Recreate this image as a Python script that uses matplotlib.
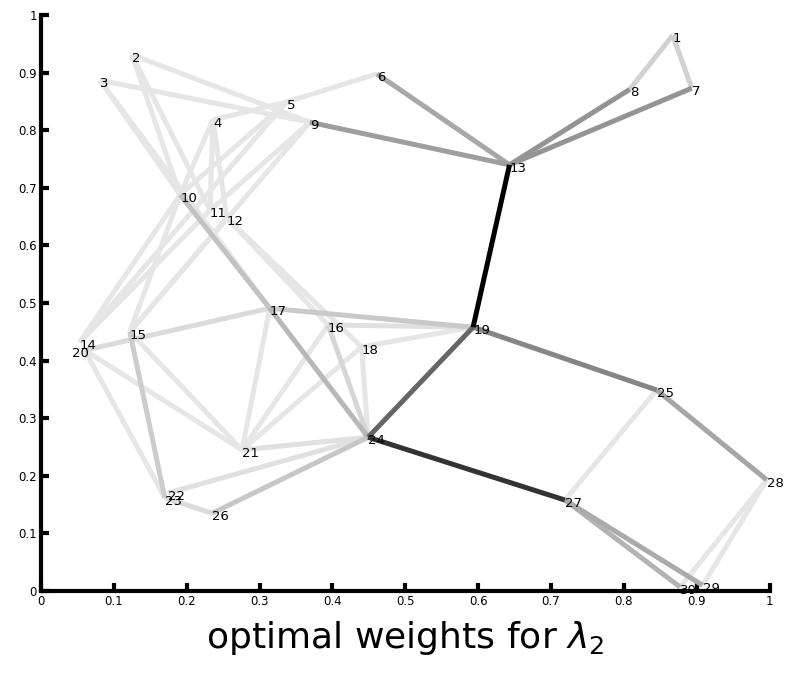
import numpy as np
import matplotlib
matplotlib.use("Agg")
import matplotlib.pyplot as plt

# node coordinates (node k is at index k-1)
node_x = [0.867, 0.125, 0.081, 0.236, 0.337, 0.461, 0.893, 0.808, 0.369, 0.191,
          0.232, 0.255, 0.643, 0.053, 0.122, 0.394, 0.314, 0.440, 0.593, 0.060,
          0.276, 0.174, 0.170, 0.449, 0.845, 0.235, 0.719, 0.996, 0.908, 0.877]
node_y = [0.965, 0.931, 0.887, 0.818, 0.849, 0.898, 0.873, 0.871, 0.814, 0.688,
          0.661, 0.648, 0.740, 0.432, 0.450, 0.462, 0.491, 0.424, 0.458, 0.418,
          0.245, 0.170, 0.162, 0.267, 0.349, 0.135, 0.158, 0.193, 0.010, 0.007]

# edges and their optimal weights shown as gray level (0 = black, 1 = white)
edge_from = [2, 3, 4, 5, 2, 2, 3, 3, 4, 4, 4, 5, 5, 9, 9, 10, 10, 11, 12, 12,
             12, 17, 15, 20, 20, 17, 16, 18, 21, 22, 23, 16, 18, 16, 18,
             10, 17, 15, 26, 17,
             1, 1, 7, 8, 6, 9, 13, 19, 24, 19, 25, 25, 27, 27, 28, 28]
edge_to = [9, 9, 5, 6, 10, 11, 10, 17, 10, 11, 12, 10, 14, 11, 15, 14, 15, 14, 16, 18,
           15, 20, 21, 21, 23, 21, 21, 21, 24, 24, 26, 24, 24, 19, 19,
           17, 24, 23, 24, 19,
           7, 8, 13, 13, 13, 13, 19, 24, 27, 25, 28, 27, 29, 30, 29, 30]
edge_gray = [0.90, 0.90, 0.90, 0.90, 0.90, 0.90, 0.90, 0.90, 0.90, 0.90,
             0.90, 0.90, 0.90, 0.90, 0.90, 0.90, 0.90, 0.90, 0.90, 0.90,
             0.90, 0.86, 0.90, 0.90, 0.90, 0.90, 0.90, 0.90, 0.88, 0.88,
             0.86, 0.84, 0.90, 0.88, 0.90,
             0.76, 0.72, 0.80, 0.78, 0.79,
             0.82, 0.82, 0.58, 0.58, 0.66, 0.62, 0.00, 0.40, 0.20, 0.52,
             0.65, 0.90, 0.67, 0.70, 0.90, 0.90]

fig = plt.figure(figsize=(7.87, 6.76), dpi=100)
ax = fig.add_axes([0.052, 0.1257, 0.926, 0.852])

# lighter edges first so dark ones end up on top
order = np.argsort(-np.array(edge_gray), kind="stable")
for k in order:
    i, j = edge_from[k] - 1, edge_to[k] - 1
    g = edge_gray[k]
    ax.plot([node_x[i], node_x[j]], [node_y[i], node_y[j]],
            color=(g, g, g), lw=3.6, solid_capstyle="butt", zorder=2)

for n in range(len(node_x)):
    dx = -0.018 if n + 1 == 20 else 0.0
    ax.text(node_x[n] + dx, node_y[n] - 0.006, str(n + 1), fontsize=9.5,
            ha="left", va="center", zorder=3)

ax.set_xlim(0, 1)
ax.set_ylim(0, 1)
ticks = np.round(np.arange(0, 1.01, 0.1), 1)
ax.set_xticks(ticks)
ax.set_yticks(ticks)
ax.set_xticklabels(["0"] + ["%.1f" % t for t in ticks[1:-1]] + ["1"])
ax.set_yticklabels(["0"] + ["%.1f" % t for t in ticks[1:-1]] + ["1"])
ax.tick_params(direction="in", length=6, width=3, labelsize=8.5, pad=3)
for s in ["top", "right"]:
    ax.spines[s].set_visible(False)
for s in ["left", "bottom"]:
    ax.spines[s].set_linewidth(3)
ax.set_xlabel(r"optimal weights for $\lambda_2$", fontsize=26, labelpad=8)

fig.savefig("out.png", dpi=100)
